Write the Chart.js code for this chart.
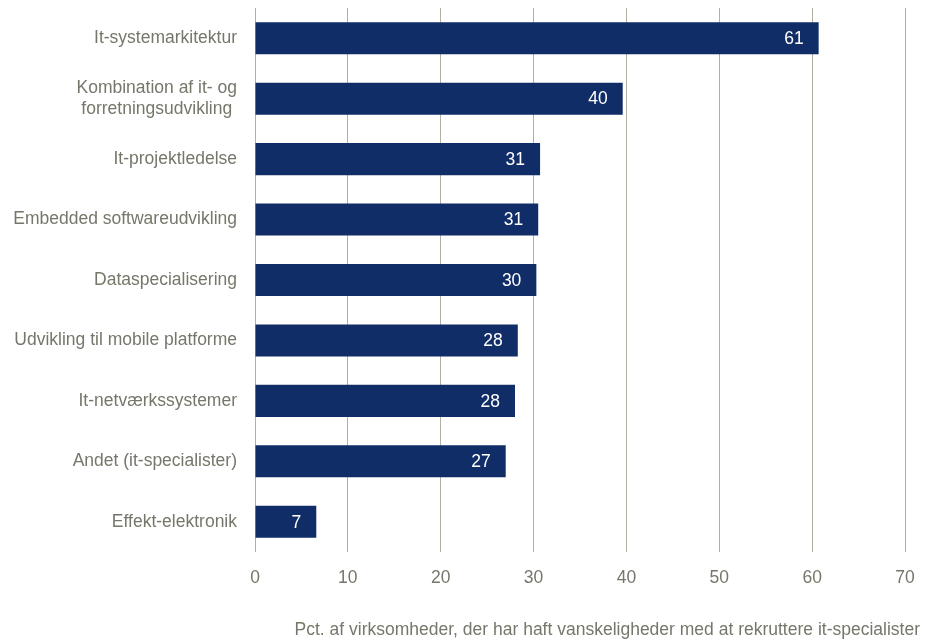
<!DOCTYPE html>
<html><head><meta charset="utf-8">
<script src="https://cdn.jsdelivr.net/npm/chart.js@4/dist/chart.umd.min.js"></script>
<style>html,body{margin:0;padding:0;background:#fff}#wrap{width:925px;height:641px}</style>
</head><body><div id="wrap"><canvas id="c" width="925" height="641"></canvas></div>
<script>
const categories = ["It-systemarkitektur", ["Kombination af it- og", "forretningsudvikling "], "It-projektledelse", "Embedded softwareudvikling", "Dataspecialisering", "Udvikling til mobile platforme", "It-netværkssystemer", "Andet (it-specialister)", "Effekt-elektronik"];
const values = [60.7, 39.6, 30.7, 30.5, 30.3, 28.3, 28.0, 27.0, 6.6];
const xTicks = [0, 10, 20, 30, 40, 50, 60, 70];
const axisTitle = "Pct. af virksomheder, der har haft vanskeligheder med at rekruttere it-specialister";

const FONT = "'Liberation Sans Narrow', 'Arial Narrow', 'Liberation Sans', sans-serif";
const GREY = '#77766a';
const FS = 17.5;

const labelPlugin = {
  id: 'labels',
  afterDatasetsDraw(chart) {
    const ctx = chart.ctx;
    const meta = chart.getDatasetMeta(0);
    ctx.save();
    ctx.font = FS + 'px ' + FONT;
    ctx.fillStyle = '#ffffff';
    ctx.textAlign = 'right';
    ctx.textBaseline = 'middle';
    meta.data.forEach((bar, i) => {
      ctx.fillText(String(Math.round(values[i])), bar.x - 15, bar.y + 1);
    });
    ctx.fillStyle = GREY;
    ctx.fillText(axisTitle, 920, 630);
    ctx.restore();
  }
};

new Chart(document.getElementById('c'), {
  type: 'bar',
  data: {
    labels: categories,
    datasets: [{
      data: values,
      backgroundColor: '#112d68',
      borderWidth: 0,
      categoryPercentage: 1,
      barPercentage: 0.53
    }]
  },
  options: {
    indexAxis: 'y',
    responsive: false,
    animation: false,
    devicePixelRatio: 1,
    layout: { padding: { top: 8, right: 20, left: 0, bottom: 0 } },
    plugins: { legend: { display: false }, tooltip: { enabled: false } },
    scales: {
      x: {
        min: 0, max: 70,
        afterBuildTicks(s) { s.ticks = xTicks.map(v => ({ value: v })); },
        afterFit(s) { s.height = 89; s.paddingLeft = 0; s.paddingRight = 0; },
        grid: { color: '#b3b0a2', lineWidth: 1, drawTicks: false },
        border: { display: false },
        ticks: { color: GREY, font: { family: FONT, size: FS }, padding: 16 }
      },
      y: {
        afterFit(s) { s.width = 255; s.paddingTop = 0; s.paddingBottom = 0; },
        grid: { display: false, drawTicks: false },
        border: { display: false },
        ticks: { color: GREY, font: { family: FONT, size: FS, lineHeight: 1.25 }, padding: 18, autoSkip: false }
      }
    }
  },
  plugins: [labelPlugin]
});
</script></body></html>
